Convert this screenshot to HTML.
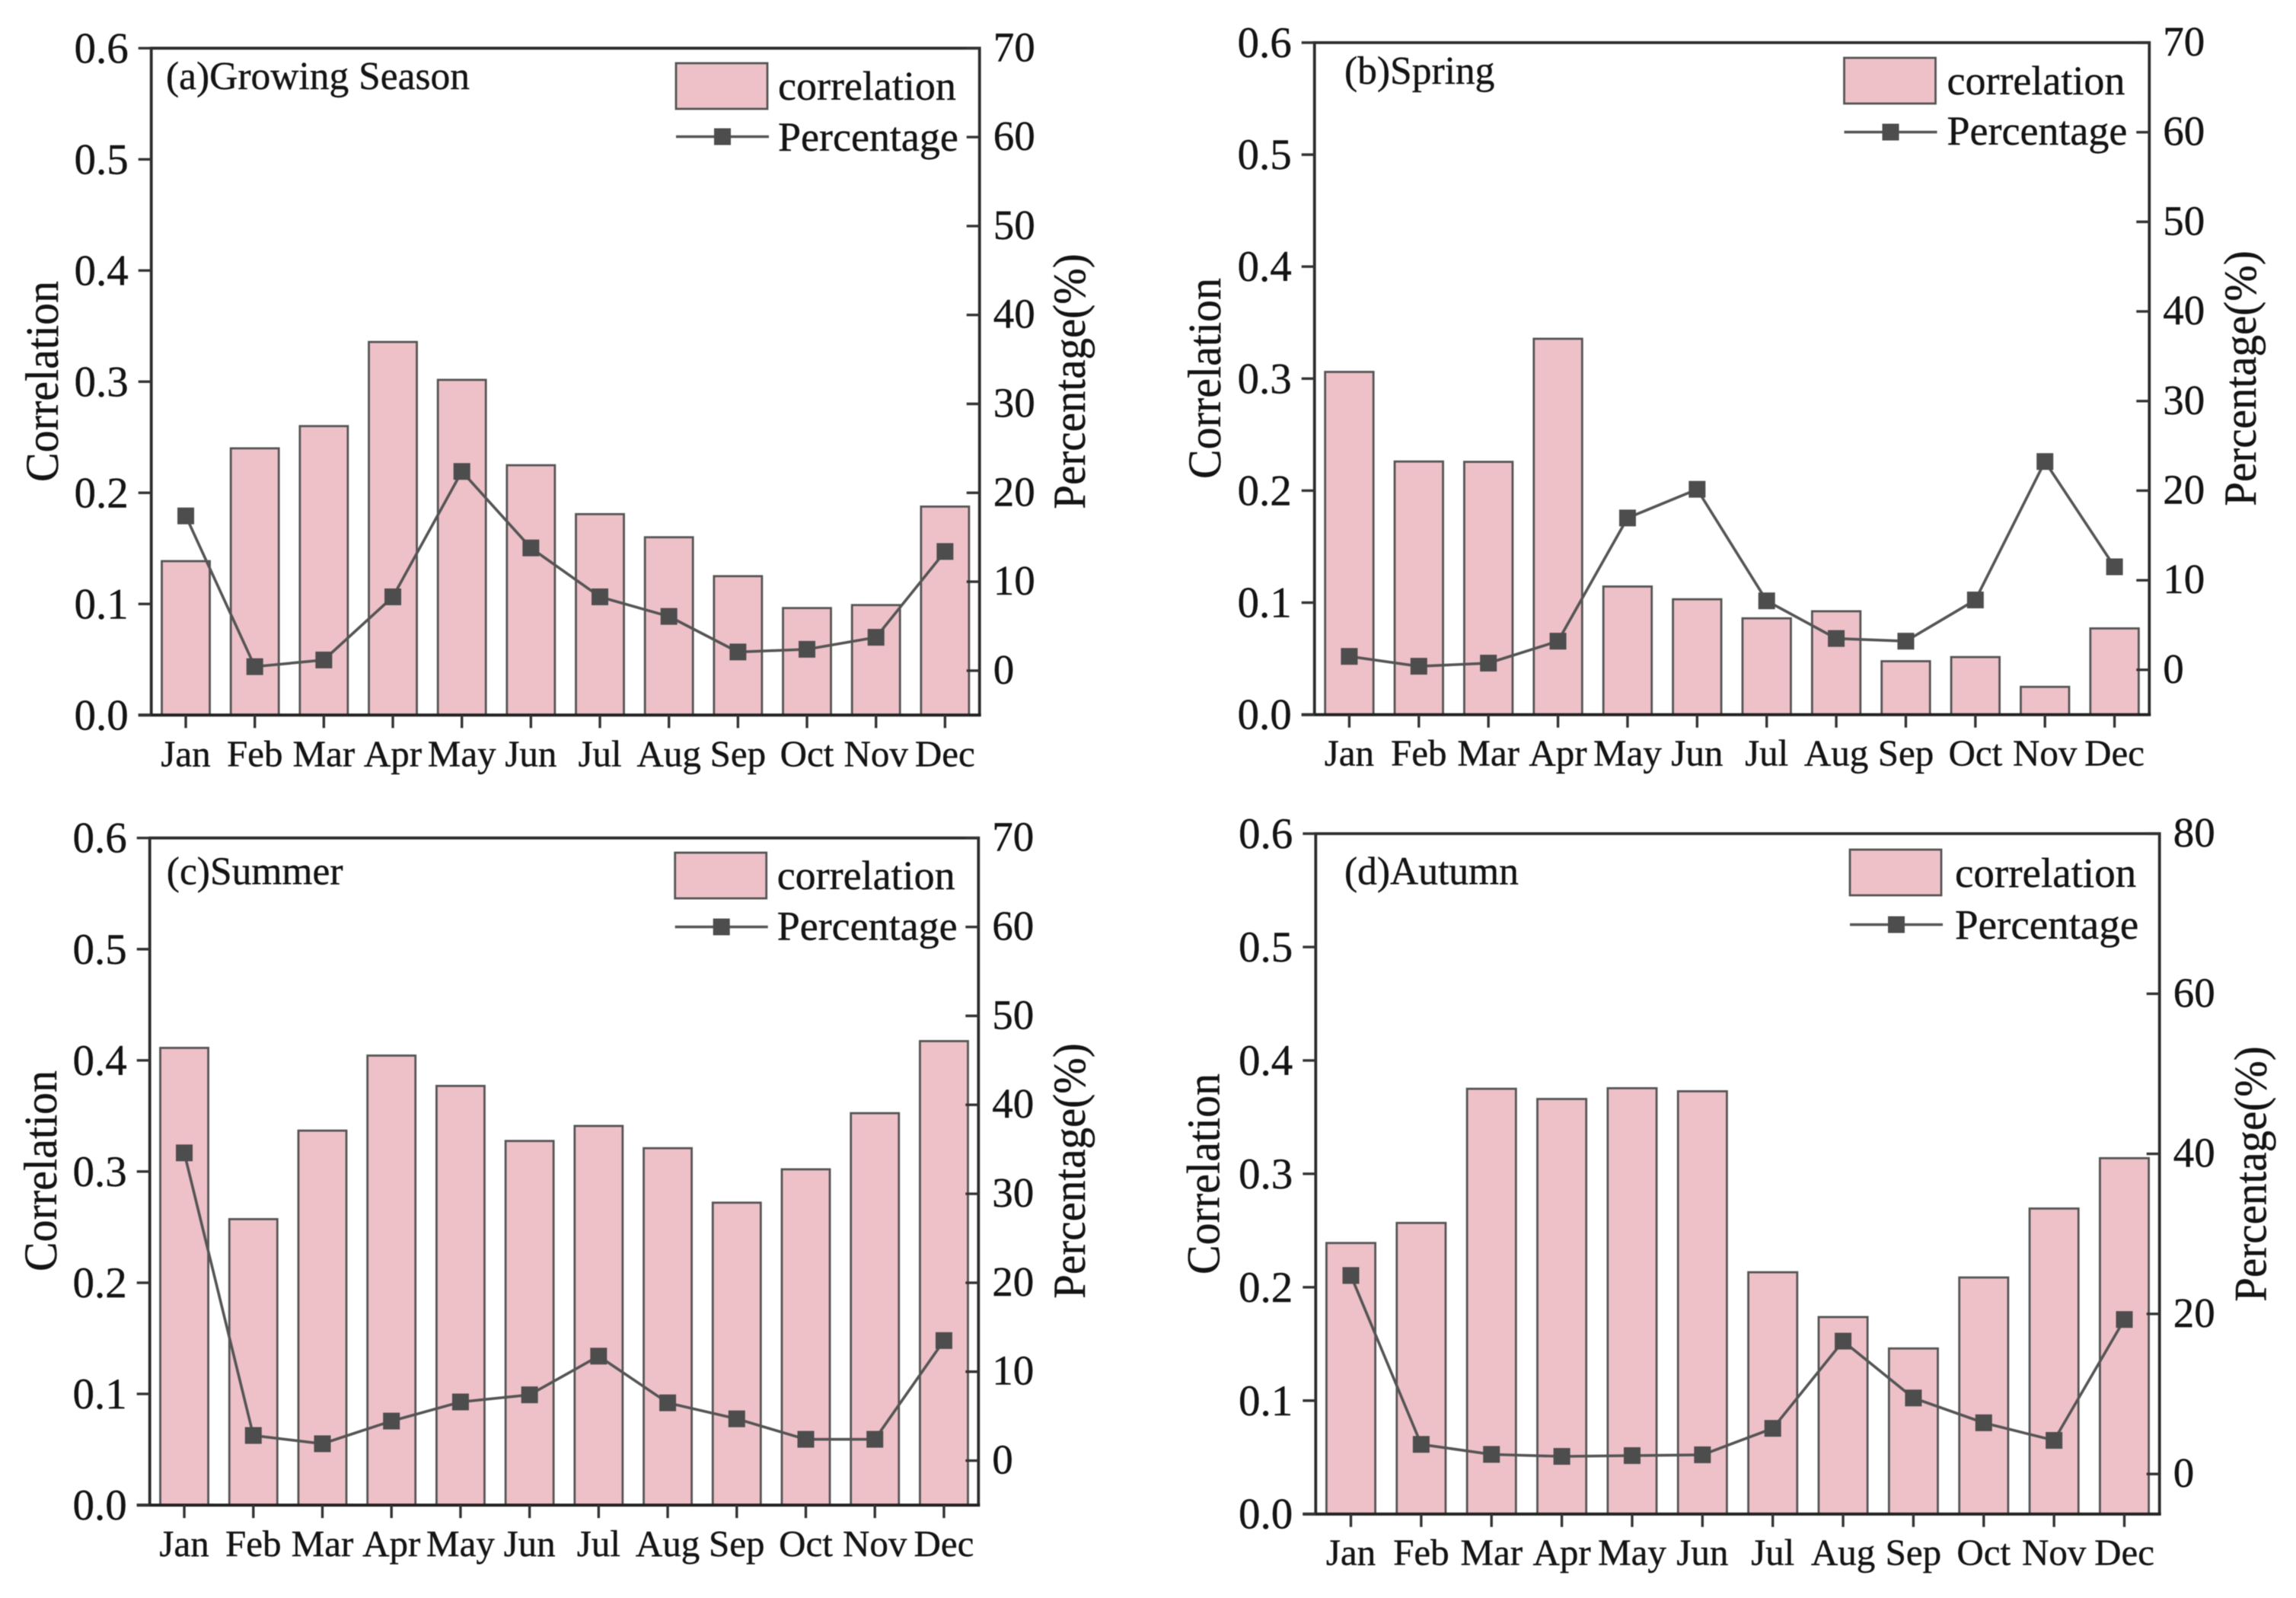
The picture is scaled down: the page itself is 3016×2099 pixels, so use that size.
<!DOCTYPE html>
<html lang="en">
<head>
<meta charset="utf-8">
<title>Monthly correlation and percentage by season</title>
<style>
html,body{margin:0;padding:0;background:#fff}
svg{display:block;filter:blur(0.6px)}
text{font-family:"Liberation Serif",serif;fill:#141414;stroke:#141414;stroke-width:0.4px}
</style>
</head>
<body>
<svg id="chart" xmlns="http://www.w3.org/2000/svg" width="3016" height="2099" viewBox="0 0 3016 2099"></svg>
<script>
const months = ['Jan','Feb','Mar','Apr','May','Jun','Jul','Aug','Sep','Oct','Nov','Dec'];
const correlationTicks = [0.0,0.1,0.2,0.3,0.4,0.5,0.6];
const percentTicks70 = [0,10,20,30,40,50,60,70];
const percentTicks80 = [0,20,40,60,80];

const growingCorrelation = [0.1385,0.240,0.260,0.3357,0.3016,0.2248,0.1808,0.160,0.125,0.0963,0.099,0.1876];
const growingPercentage = [17.4,0.45,1.2,8.3,22.4,13.8,8.3,6.1,2.1,2.4,3.75,13.4];
const springCorrelation = [0.306,0.226,0.2257,0.3356,0.1144,0.103,0.086,0.0923,0.0477,0.0514,0.0248,0.077];
const springPercentage = [1.5,0.4,0.75,3.2,16.95,20.15,7.7,3.5,3.2,7.8,23.25,11.5];
const summerCorrelation = [0.4112,0.2572,0.3368,0.4043,0.377,0.3275,0.341,0.321,0.272,0.302,0.3525,0.4173];
const summerPercentage = [34.6,2.83,1.9,4.45,6.6,7.4,11.75,6.5,4.7,2.4,2.4,13.5];
const autumnCorrelation = [0.239,0.2567,0.375,0.366,0.3755,0.3728,0.2132,0.1737,0.146,0.2086,0.2694,0.3138];
const autumnPercentage = [24.8,3.7,2.45,2.2,2.3,2.4,5.7,16.6,9.5,6.4,4.2,19.3];

const NS = 'http://www.w3.org/2000/svg';
const root = document.getElementById('chart');

function make(parent, tag, attrs, content) {
  const el = document.createElementNS(NS, tag);
  for (const k in attrs) el.setAttribute(k, attrs[k]);
  if (content !== undefined) el.textContent = content;
  parent.appendChild(el);
  return el;
}

function drawPanel(p) {
  const g = make(root, 'g', {});
  
  

  const band = (p.right - p.left) / p.categories.length;
  const xScale = i => p.left + band * (i + 0.5);
  const yCorr = v => p.bottom - (v / 0.6) * (p.bottom - p.top);
  const yPct = v => p.bottom - ((v - p.pctMin) / (p.pctMax - p.pctMin)) * (p.bottom - p.top);
  const barW = band * 0.695;

  p.correlation.forEach((v, i) => {
    const bar = make(g, 'rect', {x: xScale(i) - barW / 2, y: yCorr(v), width: barW, height: p.bottom - yCorr(v), fill: '#eec1c9', stroke: '#555', 'stroke-width': 2.8});
    
    
  });

  const pts = p.percentage.map((v, i) => xScale(i) + ',' + yPct(v)).join(' ');
  const line = make(g, 'polyline', {points: pts, fill: 'none', stroke: '#555', 'stroke-width': 3.6});
  
  

  p.percentage.forEach((v, i) => {
    const mark = make(g, 'rect', {x: xScale(i) - 11, y: yPct(v) - 11, width: 22, height: 22, fill: '#4d4d4d'});
    
    
  });

  const frame = make(g, 'path', {d: 'M' + p.left + ' ' + p.bottom + 'V' + p.top + 'H' + p.right + 'V' + p.bottom, fill: 'none', stroke: '#2c2c2c', 'stroke-width': 3.8});
  
  
  const xAxis = make(g, 'line', {x1: p.left - 17, x2: p.right + 2, y1: p.bottom, y2: p.bottom, stroke: '#222', 'stroke-width': 4});
  
  

  correlationTicks.forEach(t => {
    const y = yCorr(t);
    const tick = make(g, 'line', {x1: p.left - 17, x2: p.left, y1: y, y2: y, stroke: '#333', 'stroke-width': 3.4});
    
    
    const label = make(g, 'text', {x: p.left - 30, y: y + 19, 'text-anchor': 'end', 'font-size': 57}, t.toFixed(1));
    
    
  });

  p.pctTicks.forEach(t => {
    const y = yPct(t);
    const tick = make(g, 'line', {x1: p.right - 17, x2: p.right, y1: y, y2: y, stroke: '#333', 'stroke-width': 3.4});
    
    
    const label = make(g, 'text', {x: p.right + 18, y: y + 17, 'font-size': 55}, String(t));
    
    
  });

  p.categories.forEach((m, i) => {
    const x = xScale(i);
    const tick = make(g, 'line', {x1: x, x2: x, y1: p.bottom, y2: p.bottom + 17, stroke: '#333', 'stroke-width': 3.4});
    
    
    const label = make(g, 'text', {x: x, y: p.bottom + 67, 'text-anchor': 'middle', 'font-size': 49}, m);
    
    
  });

  const title = make(g, 'text', {x: p.titleX, y: p.titleY, 'font-size': 51.5}, p.title);
  
  

  const leftTitle = make(g, 'text', {transform: 'translate(' + p.corrX + ',' + p.labelY + ') rotate(-90) scale(1,1.05)', 'text-anchor': 'middle', 'font-size': 58}, 'Correlation');
  
  
  const rightTitle = make(g, 'text', {transform: 'translate(' + p.pctX + ',' + p.labelY + ') rotate(-90) scale(1,1.05)', 'text-anchor': 'middle', 'font-size': 57}, 'Percentage(%)');
  
  

  const swatch = make(g, 'rect', {x: p.legX, y: p.legTop, width: 120, height: p.legH, fill: '#eec1c9', stroke: '#555', 'stroke-width': 2.8});
  
  
  const legText1 = make(g, 'text', {x: p.legX + p.legTextDx, y: p.legBase1, 'font-size': p.legFont}, 'correlation');
  
  
  const legLine = make(g, 'line', {x1: p.legX, x2: p.legX + 122, y1: p.legLineY, y2: p.legLineY, stroke: '#555', 'stroke-width': 3.6});
  
  
  const legMark = make(g, 'rect', {x: p.legX + 50, y: p.legLineY - 11, width: 22, height: 22, fill: '#4d4d4d'});
  
  
  const legText2 = make(g, 'text', {x: p.legX + p.legTextDx, y: p.legBase2, 'font-size': p.legFont}, 'Percentage');
  
  
}

drawPanel({key:'growing-season', title:'(a)Growing Season', categories:months, correlation:growingCorrelation, percentage:growingPercentage, pctTicks:percentTicks70, pctMin:-5, pctMax:70,
  left:198.7, right:1286.7, top:63.3, bottom:939.3, titleX:218, titleY:117, corrX:76, pctX:1425, labelY:501, legX:888, legTop:83, legH:60, legBase1:131, legBase2:198, legLineY:179.5, legTextDx:134, legFont:54});
drawPanel({key:'spring', title:'(b)Spring', categories:months, correlation:springCorrelation, percentage:springPercentage, pctTicks:percentTicks70, pctMin:-5, pctMax:70,
  left:1726.7, right:2823.3, top:56, bottom:938.7, titleX:1766, titleY:110, corrX:1603, pctX:2963, labelY:497, legX:2422.5, legTop:76, legH:60, legBase1:124, legBase2:190, legLineY:173.5, legTextDx:135, legFont:54});
drawPanel({key:'summer', title:'(c)Summer', categories:months, correlation:summerCorrelation, percentage:summerPercentage, pctTicks:percentTicks70, pctMin:-5, pctMax:70,
  left:196.7, right:1285.3, top:1100.7, bottom:1977, titleX:218.8, titleY:1161.6, corrX:74, pctX:1425, labelY:1538, legX:886.7, legTop:1120, legH:60, legBase1:1168, legBase2:1234.6, legLineY:1217.5, legTextDx:134, legFont:54});
drawPanel({key:'autumn', title:'(d)Autumn', categories:months, correlation:autumnCorrelation, percentage:autumnPercentage, pctTicks:percentTicks80, pctMin:-5, pctMax:80,
  left:1728.3, right:2836.7, top:1095, bottom:1988.7, titleX:1766, titleY:1161.6, corrX:1601.5, pctX:2976.7, labelY:1542, legX:2430, legTop:1116, legH:60, legBase1:1165, legBase2:1233, legLineY:1214.5, legTextDx:138, legFont:55});
</script>
</body>
</html>
